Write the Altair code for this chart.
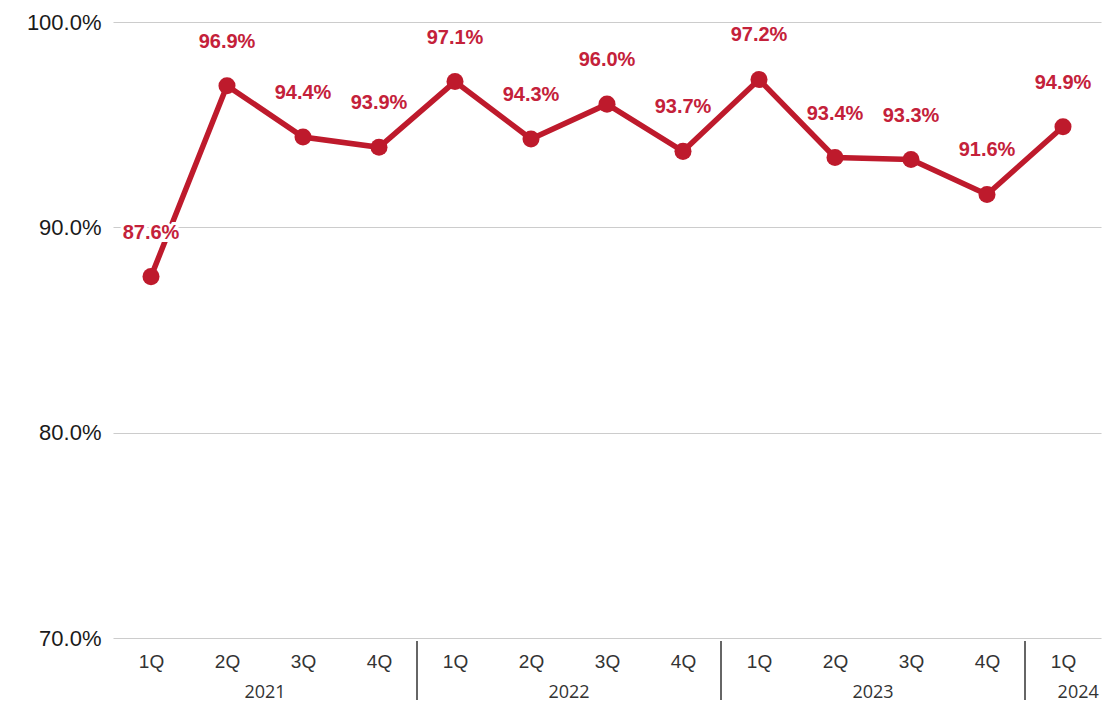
import altair as alt
import pandas as pd

quarters = ["1Q", "2Q", "3Q", "4Q", "1Q", "2Q", "3Q", "4Q", "1Q", "2Q", "3Q", "4Q", "1Q"]
values = [87.6, 96.9, 94.4, 93.9, 97.1, 94.3, 96.0, 93.7, 97.2, 93.4, 93.3, 91.6, 94.9]
years = ["2021", "2022", "2023", "2024"]
year_pos = [1.5, 5.5, 9.5, 12.2]
separators = [3.5, 7.5, 11.5]

W, H = 988, 616
LINE = "#BE1A2C"
TXT = "#C4213A"

df = pd.DataFrame({"i": list(range(len(values))), "q": quarters, "v": values,
                   "lab": [f"{v:.1f}%" for v in values]})
ydf = pd.DataFrame({"x": year_pos, "year": years})
sdf = pd.DataFrame({"x": separators})

xscale = alt.Scale(domain=[-0.5, 12.5], nice=False, zero=False)
yscale = alt.Scale(domain=[70, 100], nice=False, zero=False)

label_expr = "[" + ",".join(f"'{q}'" for q in quarters) + "][datum.value]"

base = alt.Chart(df)

line = base.mark_line(color=LINE, strokeWidth=5.5).encode(
    x=alt.X("i:Q", scale=xscale,
            axis=alt.Axis(values=list(range(len(values))), labelExpr=label_expr,
                          title=None, grid=False, ticks=False, domain=False,
                          labelFont="Liberation Sans", labelFontSize=19,
                          labelColor="#333333", labelPadding=14)),
    y=alt.Y("v:Q", scale=yscale,
            axis=alt.Axis(values=[70, 80, 90, 100], labelExpr="format(datum.value, '.1f') + '%'",
                          title=None, ticks=False, domain=False,
                          gridColor="#cccccc", gridWidth=1.2,
                          labelFont="Liberation Sans", labelFontSize=22,
                          labelColor="#1a1a1a", labelPadding=12)),
)
points = base.mark_circle(color=LINE, size=290, opacity=1).encode(x="i:Q", y="v:Q")
halo = base.mark_text(dy=-44, font="Liberation Sans", fontWeight="bold", fontSize=20,
                      color="white", stroke="white", strokeWidth=6).encode(
    x="i:Q", y="v:Q", text="lab:N")
labels = base.mark_text(dy=-44, font="Liberation Sans", fontWeight="bold", fontSize=20,
                        color=TXT).encode(x="i:Q", y="v:Q", text="lab:N")

year_text = alt.Chart(ydf).mark_text(font="Open Sans", fontSize=18, color="#333333",
                                     baseline="middle").encode(
    x=alt.X("x:Q", scale=xscale), y=alt.value(H + 55), text="year:N")
seps = alt.Chart(sdf).mark_rule(color="#333333", strokeWidth=1.5).encode(
    x=alt.X("x:Q", scale=xscale), y=alt.value(H + 3), y2=alt.value(H + 62))

chart = alt.layer(line, halo, points, labels, year_text, seps).properties(
    width=W, height=H,
    autosize=alt.AutoSizeParams(type="none"),
    padding={"left": 105, "top": 14, "right": 5, "bottom": 64},
).configure(background="white").configure_view(strokeWidth=0, stroke=None)

chart.save("out.html", embed_options={"renderer": "svg", "actions": False})
